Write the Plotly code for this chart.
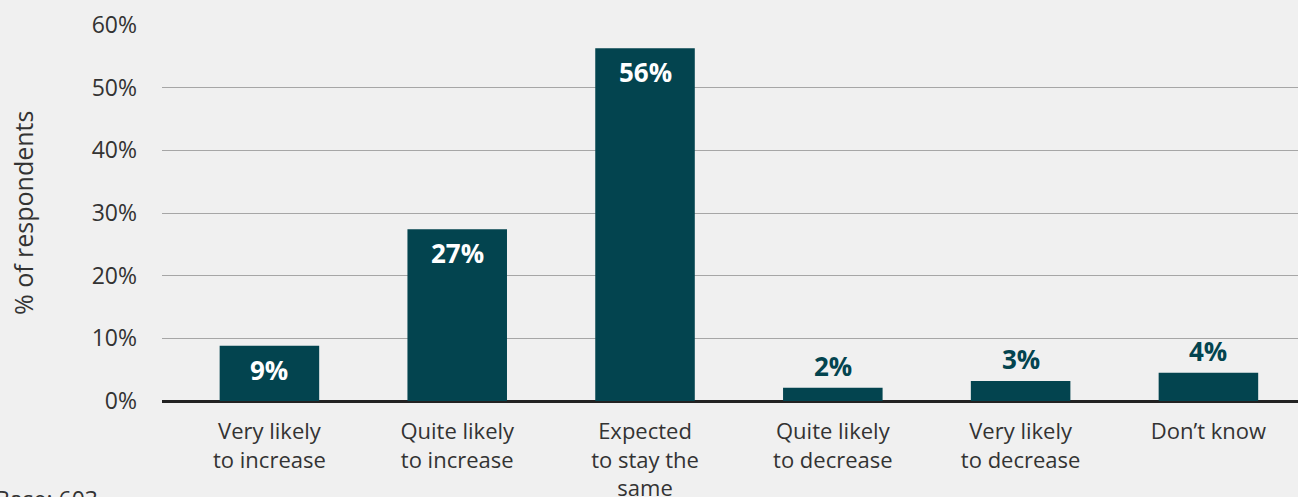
import plotly.graph_objects as go

categories = ["Very likely<br>to increase", "Quite likely<br>to increase", "Expected<br>to stay the<br>same",
              "Quite likely<br>to decrease", "Very likely<br>to decrease", "Don’t know"]
values = [8.8, 27.4, 56.3, 2.1, 3.2, 4.5]
labels = ["9%", "27%", "56%", "2%", "3%", "4%"]
tick_vals = [0, 10, 20, 30, 40, 50, 60]
tick_text = ["0%", "10%", "20%", "30%", "40%", "50%", "60%"]

TEAL = "#03444F"
BG = "#F0F0F0"
FONT = "Open Sans"

xs = list(range(len(categories)))
fig = go.Figure()
fig.add_trace(go.Bar(x=xs, y=values, marker=dict(color=TEAL, line=dict(width=0)),
                     width=0.53, hoverinfo="skip"))

for i, (v, t) in enumerate(zip(values, labels)):
    if v > 6:
        fig.add_annotation(x=i, y=v, text=f"<b>{t}</b>", showarrow=False, yanchor="top",
                           yshift=-4, font=dict(family=FONT, size=26, color="white"))
    else:
        fig.add_annotation(x=i, y=v, text=f"<b>{t}</b>", showarrow=False, yanchor="bottom",
                           yshift=2, font=dict(family=FONT, size=26, color=TEAL))

fig.add_annotation(xref="paper", yref="paper", x=(23 - 162) / 1136, y=0.5, text="% of respondents",
                   textangle=-90, showarrow=False, xanchor="center", yanchor="middle",
                   font=dict(family=FONT, size=25, color="#333333"))
fig.add_annotation(xref="paper", yref="paper", x=(100 - 162) / 1136, y=(401 - 481) / 376,
                   text="Base: 603", showarrow=False, xanchor="right", yanchor="top",
                   font=dict(family=FONT, size=23, color="#333333"))

fig.update_layout(
    width=1298, height=497, paper_bgcolor=BG, plot_bgcolor=BG,
    margin=dict(l=162, r=0, t=25, b=96, autoexpand=False),
    showlegend=False,
    font=dict(family=FONT, size=22, color="#333333"),
    xaxis=dict(range=[-0.572, 5.477], tickmode="array", tickvals=xs, ticktext=categories,
               showgrid=False, zeroline=False, showline=False, ticks="", ticklabelstandoff=15,
               automargin=False,
               tickfont=dict(family=FONT, size=22, color="#333333"), fixedrange=True),
    yaxis=dict(range=[0, 60], tickmode="array", tickvals=tick_vals, ticktext=tick_text,
               showgrid=True, gridcolor="#A6A6A6", gridwidth=1.2,
               zeroline=True, zerolinecolor="#222222", zerolinewidth=3,
               showline=False, ticks="", ticklabelstandoff=24, automargin=False,
               tickfont=dict(family=FONT, size=23, color="#333333"), fixedrange=True),
)

fig.write_html("out.html")
